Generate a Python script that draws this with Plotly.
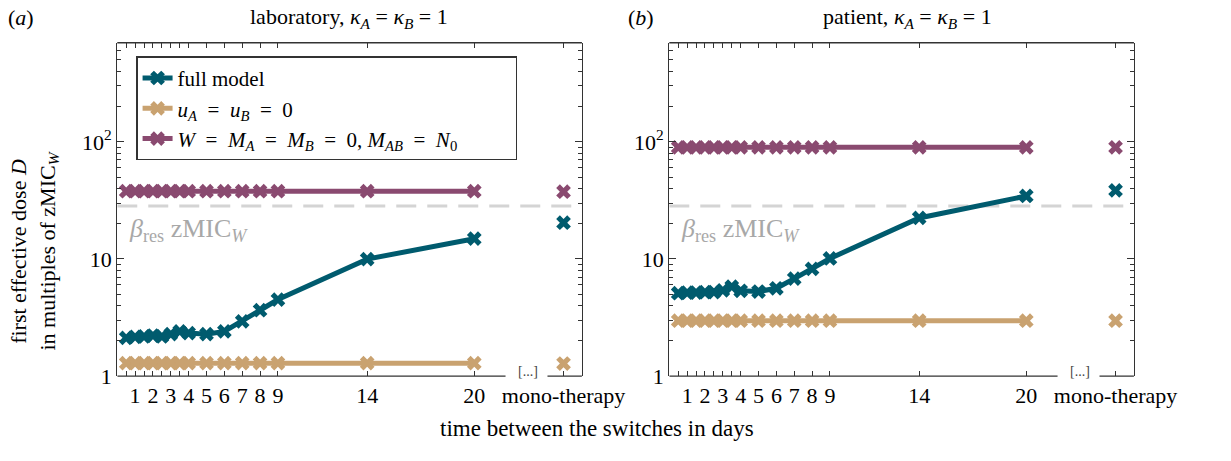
import plotly.graph_objects as go

# ---------------- data ----------------
switch_days = [0.5, 1, 1.5, 2, 2.5, 3, 3.5, 4, 5, 6, 7, 8, 9, 14, 20]
mono_x = 25
tick_vals = [0.5, 1, 1.5, 2, 2.5, 3, 3.5, 4, 5, 6, 7, 8, 9, 14, 20, 25]
tick_text = ["", "1", "", "2", "", "3", "", "4", "5", "6", "7", "8", "9", "14", "20", "mono-therapy"]

lab_full = [2.12, 2.16, 2.18, 2.22, 2.18, 2.28, 2.41, 2.33, 2.28, 2.41, 2.93, 3.65, 4.50, 9.97, 14.9]
lab_nomut = [1.29] * 15
lab_resist = [37.9] * 15
lab_mono_full = 20.4
lab_mono_nomut = 1.28
lab_mono_resist = 37.5
lab_beta = 28.3

pat_full = [5.10, 5.15, 5.17, 5.20, 5.22, 5.40, 5.80, 5.35, 5.27, 5.62, 6.80, 8.22, 10.1, 22.4, 34.5]
pat_nomut = [2.97] * 15
pat_resist = [89.7] * 15
pat_mono_full = 38.5
pat_mono_nomut = 2.97
pat_mono_resist = 89.7
pat_beta = 28.3

y_tickvals = [1, 10, 100]
y_ticktext = ["1", "10", "10<sup>2</sup>"]
y_minor = [2, 3, 4, 5, 6, 7, 8, 9, 20, 30, 40, 50, 60, 70, 80, 90, 200, 300, 400, 500, 600, 700]
x_range = [0, 26.03]
y_range_log = [0, 2.846]

EQ = "\u2002=\u2002"
names = ["full model",
         "<i>u</i><sub><i>A</i></sub>" + EQ + "<i>u</i><sub><i>B</i></sub>" + EQ + "0",
         "<i>W</i>" + EQ + "<i>M</i><sub><i>A</i></sub>" + EQ + "<i>M</i><sub><i>B</i></sub>" + EQ
         + "0, <i>M</i><sub><i>AB</i></sub>" + EQ + "<i>N</i><sub>0</sub>" + "\u00a0" * 10]
colors = ["#005b6e", "#c9a270", "#8a4a70"]

FONT = "Liberation Serif, Times New Roman, Times, serif"
AXC = "#333333"

fig = go.Figure()

panels = [
    ("x", "y", [lab_full, lab_nomut, lab_resist], [lab_mono_full, lab_mono_nomut, lab_mono_resist], lab_beta, True),
    ("x2", "y2", [pat_full, pat_nomut, pat_resist], [pat_mono_full, pat_mono_nomut, pat_mono_resist], pat_beta, False),
]

for xa, ya, series, monos, beta, show in panels:
    fig.add_trace(go.Scatter(x=x_range, y=[beta, beta], mode="lines", xaxis=xa, yaxis=ya,
                             line=dict(color="#d4d4d4", width=3, dash="20px,11px"),
                             showlegend=False, hoverinfo="skip"))
    for i, (s, m) in enumerate(zip(series, monos)):
        fig.add_trace(go.Scatter(x=switch_days, y=s, mode="lines+markers", xaxis=xa, yaxis=ya,
                                 name=names[i], legendgroup="g%d" % i, showlegend=show,
                                 line=dict(color=colors[i], width=5),
                                 marker=dict(symbol="x", size=13, color=colors[i])))
        fig.add_trace(go.Scatter(x=[mono_x], y=[m], mode="markers", xaxis=xa, yaxis=ya,
                                 showlegend=False,
                                 marker=dict(symbol="x", size=13, color=colors[i])))

xdom = [[121.5 / 1231, 603 / 1231], [693.5 / 1231, 1175 / 1231]]
ydom = [1 - 387 / 461, 1 - 44 / 461]

xcommon = dict(range=x_range, tickmode="array", tickvals=tick_vals, ticktext=tick_text,
               ticks="inside", ticklen=5, tickwidth=1, tickcolor=AXC, showline=False, mirror="ticks",
               showgrid=False, zeroline=False, ticklabelstandoff=4,
               tickfont=dict(family=FONT, size=22, color="black"))
ycommon = dict(type="log", range=y_range_log, tickmode="array", tickvals=y_tickvals, ticktext=y_ticktext,
               ticks="inside", ticklen=7, tickwidth=1, tickcolor=AXC, showline=True, linecolor=AXC,
               linewidth=1.3, mirror="ticks", showgrid=False, zeroline=False,
               tickfont=dict(family=FONT, size=22, color="black"),
               minor=dict(tickmode="array", tickvals=y_minor, ticks="inside", ticklen=4,
                          tickcolor=AXC, showgrid=False))

fig.update_layout(
    width=1231, height=461, margin=dict(l=0, r=0, t=0, b=0),
    paper_bgcolor="white", plot_bgcolor="white",
    xaxis=dict(domain=xdom[0], anchor="y", **xcommon),
    yaxis=dict(domain=ydom, anchor="x", **ycommon),
    xaxis2=dict(domain=xdom[1], anchor="y2", **xcommon),
    yaxis2=dict(domain=ydom, anchor="x2", **ycommon),
    legend=dict(x=141 / 1231, y=1 - 58 / 461, xanchor="left", yanchor="top",
                bgcolor="white", bordercolor=AXC, borderwidth=1.5,
                font=dict(family=FONT, size=21, color="black"),
                tracegroupgap=0),
    font=dict(family=FONT, size=22, color="black"),
    showlegend=True,
)

shapes = []
for k, (xr, yr) in enumerate([("x", "y"), ("x2", "y2")]):
    shapes.append(dict(type="line", xref=xr, yref=yr + " domain", x0=x_range[0], x1=21.75, y0=0, y1=0,
                       line=dict(color=AXC, width=1.3)))
    shapes.append(dict(type="line", xref=xr, yref=yr + " domain", x0=24.1, x1=x_range[1], y0=0, y1=0,
                       line=dict(color=AXC, width=1.3)))
    shapes.append(dict(type="line", xref=xr + " domain", yref=yr + " domain", x0=0, x1=1, y0=1, y1=1,
                       line=dict(color=AXC, width=1.3)))
fig.update_layout(shapes=shapes)

ann = []
beta_text = "<i>β</i><sub>res</sub> zMIC<sub><i>W</i></sub>"
for xr, yr in [("x", "y"), ("x2", "y2")]:
    ann.append(dict(text=beta_text, xref=xr + " domain", yref=yr + " domain", x=0.022, y=0.437,
                    xanchor="left", yanchor="middle", showarrow=False,
                    font=dict(family=FONT, size=26, color="#a8a8a8")))
    ann.append(dict(text="[...]", xref=xr, yref=yr + " domain", x=23.0, y=0.015,
                    xanchor="center", yanchor="middle", showarrow=False,
                    font=dict(family=FONT, size=14, color="#444444")))
ann += [
    dict(text="laboratory, <i>κ</i><sub><i>A</i></sub> = <i>κ</i><sub><i>B</i></sub> = 1", xref="paper", yref="paper",
         x=362 / 1231, y=1 - 19 / 461, showarrow=False, xanchor="center", yanchor="middle",
         font=dict(family=FONT, size=22)),
    dict(text="patient, <i>κ</i><sub><i>A</i></sub> = <i>κ</i><sub><i>B</i></sub> = 1", xref="paper", yref="paper",
         x=940 / 1231, y=1 - 19 / 461, showarrow=False, xanchor="center", yanchor="middle",
         font=dict(family=FONT, size=22)),
    dict(text="(<i>a</i>)", xref="paper", yref="paper", x=22 / 1231, y=1 - 18 / 461, showarrow=False,
         xanchor="center", yanchor="middle", font=dict(family=FONT, size=22)),
    dict(text="(<i>b</i>)", xref="paper", yref="paper", x=664 / 1231, y=1 - 18 / 461, showarrow=False,
         xanchor="center", yanchor="middle", font=dict(family=FONT, size=22)),
    dict(text="first effective dose <i>D</i><br>in multiples of zMIC<sub><i>W</i></sub>", xref="paper", yref="paper",
         x=35 / 1231, y=1 - 258 / 461, showarrow=False, textangle=-90, xanchor="center", yanchor="middle",
         font=dict(family=FONT, size=22)),
    dict(text="time between the switches in days", xref="paper", yref="paper",
         x=619 / 1231, y=1 - 441 / 461, showarrow=False, xanchor="center", yanchor="middle",
         font=dict(family=FONT, size=23)),
]
fig.update_layout(annotations=ann)

fig.write_html("out.html")
